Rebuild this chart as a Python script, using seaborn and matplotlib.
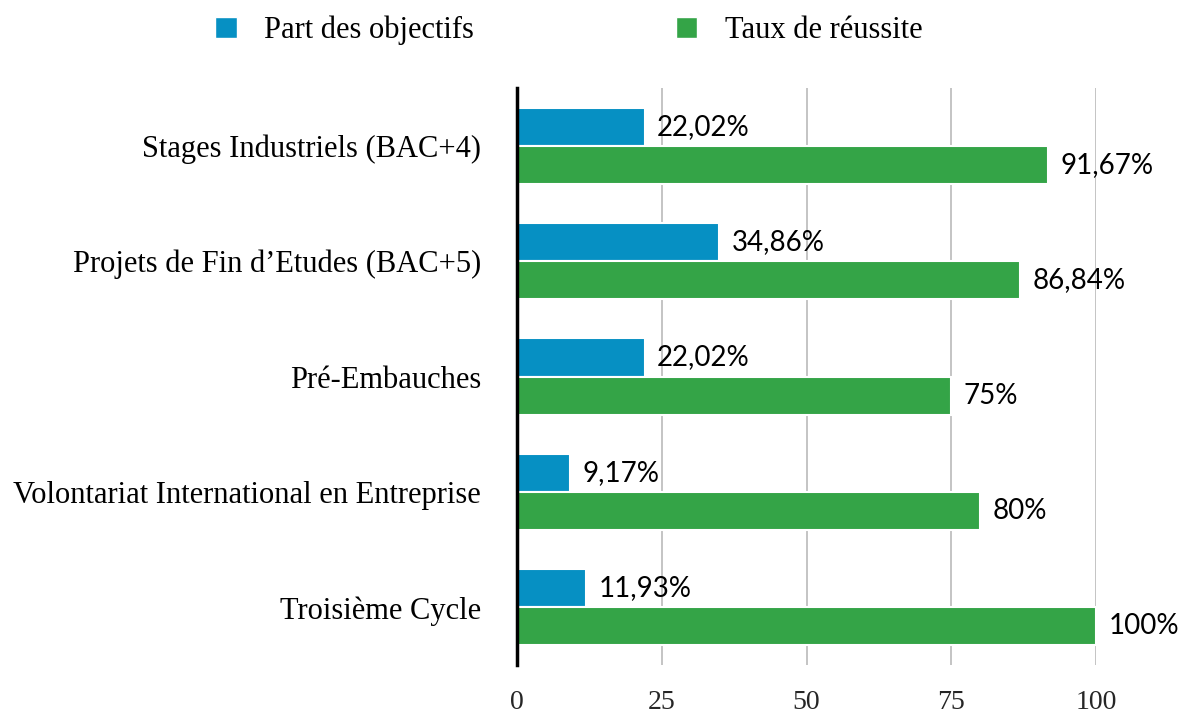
import matplotlib
matplotlib.use("Agg")
import matplotlib.pyplot as plt
import seaborn as sns
import pandas as pd
from matplotlib.patches import Patch

categories = ["Stages Industriels (BAC+4)",
              "Projets de Fin d\u2019Etudes (BAC+5)",
              "Pré-Embauches",
              "Volontariat International en Entreprise",
              "Troisième Cycle"]
part_objectifs = [22.02, 34.86, 22.02, 9.17, 11.93]
taux_reussite = [91.67, 86.84, 75, 80, 100]
series = ["Part des objectifs", "Taux de réussite"]
colors = ["#0690C3", "#34A447"]
xticks = [0, 25, 50, 75, 100]

df = pd.DataFrame({
    "cat": categories * 2,
    "val": part_objectifs + taux_reussite,
    "serie": [series[0]] * len(categories) + [series[1]] * len(categories),
})

sns.set_style("white")
serif = ["Liberation Serif", "DejaVu Serif"]
sans = ["Lato", "DejaVu Sans"]

fig = plt.figure(figsize=(11.85, 7.18), dpi=100)
ax = fig.add_axes([0.4363, 0.0738, 0.4886, 0.8036])

sns.barplot(data=df, y="cat", x="val", hue="serie", orient="h",
            palette=colors, saturation=1, width=0.66, edgecolor="white",
            linewidth=1.5, ax=ax, legend=False, zorder=3)

def fmt(v):
    return ("%g" % v).replace(".", ",") + "%"

for cont, vals in zip(ax.containers, [part_objectifs, taux_reussite]):
    ax.bar_label(cont, labels=[fmt(v) for v in vals], padding=9,
                 fontsize=20, family=sans, color="black", clip_on=False)

ax.set_xlim(0, 100)
ax.set_xticks(xticks)
ax.set_xticklabels([str(t) for t in xticks], family=serif, fontsize=20)
ax.set_xlabel("")
ax.set_ylabel("")
ax.tick_params(axis="x", length=0, pad=18)
ax.tick_params(axis="y", length=0, pad=26)
for lab in ax.get_yticklabels():
    lab.set_family(serif)
    lab.set_fontsize(22)
    lab.set_color("black")

ax.grid(axis="x", color="#c4c4c4", linewidth=1.4, zorder=0)
ax.set_axisbelow(True)
for s in ["top", "right", "bottom"]:
    ax.spines[s].set_visible(False)
ax.spines["left"].set_color("black")
ax.spines["left"].set_linewidth(2.5)
ax.spines["left"].set_zorder(5)

handles = [Patch(facecolor=c, edgecolor="white") for c in colors]
fig.legend(handles, series, loc="center", bbox_to_anchor=(0.48, 0.958),
           ncol=2, frameon=False,
           prop={"family": serif, "size": 22},
           labelcolor="black",
           handlelength=0.7, handleheight=0.7, handletextpad=0.9,
           columnspacing=6.6)

fig.savefig("out.png", dpi=100)
